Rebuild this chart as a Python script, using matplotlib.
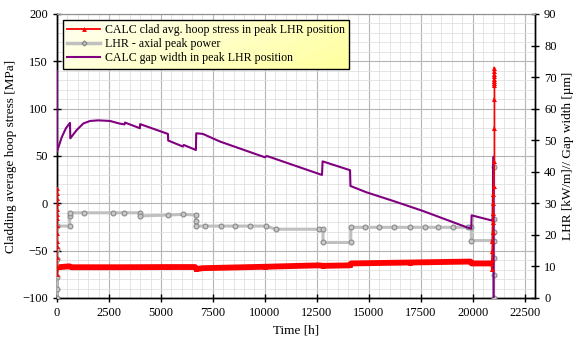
import numpy as np
import matplotlib
matplotlib.use("Agg")
import matplotlib.pyplot as plt
from matplotlib.lines import Line2D
from matplotlib.ticker import MultipleLocator

plt.rcParams['font.family'] = ['Liberation Serif', 'DejaVu Serif']

# ---- data ----
# red: clad average hoop stress [MPa] (left axis)
red_t = [0, 0, 0, 0, 0, 0, 0, 0, 0, 0, 0, 0, 0, 0,
         80, 600, 700, 3000, 5400, 6650, 6700, 7000, 10000, 12600, 12800,
         14100, 14150, 17000, 19900, 19950, 20900,
         20920, 20930, 20940, 20950, 20960, 20970, 20980, 20990, 21000, 21010,
         21050, 21050, 21050, 21050, 21050, 21050, 21050, 21050, 21050, 21050, 21050]
red_v = [16.5, 11, 6, 0.5, -5.5, -11, -16, -23, -31, -40, -45, -57, -67.7, -74.8,
         -67.5, -66.5, -67.5, -67.5, -67.3, -67.3, -69.5, -68.5, -67, -65.5, -66,
         -65.5, -63.5, -62.5, -61.5, -63.5, -63.5,
         -69, -60, -50, -40, -30, -20, -10, 0, 10, 18,
         45, 80, 110, 125, 127, 129, 131, 134, 137, 140, 143]
red_body_start, red_body_end = 14, 31   # index range of the dense (thick) part

# gray: LHR axial peak power [kW/m] (right axis)
lhr_t = [0, 0, 0, 0, 0, 0, 610, 610, 610, 1310, 2700, 3240, 3990, 3990, 5350, 6070,
         6670, 6670, 6670, 7115, 7870, 8560, 9280, 10050, 10530, 12610, 12800, 12800,
         14135, 14135, 14808, 15495, 16216, 16971, 17707, 18351, 19053, 19774, 19937,
         19937, 20960, 21010, 21010, 21010, 21010, 21010, 21010, 21010]
lhr_v = [0, 2.9, 6.7, 12.4, 15.5, 22.8, 22.8, 26.0, 27.0, 27.0, 27.0, 27.0, 27.0, 26.0, 26.3, 26.5,
         26.3, 24.3, 22.8, 22.8, 22.8, 22.8, 22.8, 22.8, 21.8, 21.8, 21.8, 17.6,
         17.6, 22.4, 22.4, 22.4, 22.4, 22.4, 22.4, 22.4, 22.4, 22.4, 22.4,
         18.2, 18.2, 41.6, 24.9, 21.0, 18.2, 12.6, 7.3, 0]

# purple: gap width [um] (right axis)
gap_t = [0, 0, 225, 430, 625, 640, 945, 1265, 1590, 1990, 2550, 3000, 3250, 3270,
         3990, 4000, 5337, 5350, 6058, 6100, 6683, 6700, 7019, 7836, 10000, 10100,
         12750, 12780, 14100, 14120, 14888, 16250, 17600, 19760, 19935, 19950, 20960,
         21010, 21010]
gap_v = [72, 46.4, 50.9, 53.8, 55.5, 50.6, 53.2, 55.3, 56.1, 56.3, 56.1, 55.3, 55.0, 55.6,
         53.8, 55.1, 52.0, 49.9, 48.0, 48.5, 46.9, 52.2, 52.0, 49.6, 44.6, 45.0,
         39.0, 43.3, 40.5, 35.5, 33.5, 30.6, 27.6, 22.3, 22.0, 26.2, 24.5,
         44.8, 0]

x_ticks = [0, 2500, 5000, 7500, 10000, 12500, 15000, 17500, 20000, 22500]
labels = ["CALC clad avg. hoop stress in peak LHR position",
          "LHR - axial peak power",
          "CALC gap width in peak LHR position"]

RED = '#ff0000'
GRAY = '#c0c0c0'
PURPLE = '#800080'

fig = plt.figure(figsize=(5.79, 3.51), dpi=100)
ax = fig.add_axes([57/579, 1-298/351, (535-57)/579, (298-14)/351])
ax2 = ax.twinx()

ax.set_xlim(0, 23000)
ax.set_ylim(-100, 200)
ax2.set_ylim(0, 90)

ax.set_xticks(x_ticks)
ax.xaxis.set_minor_locator(MultipleLocator(500))
ax.yaxis.set_major_locator(MultipleLocator(50))
ax.yaxis.set_minor_locator(MultipleLocator(10))
ax2.yaxis.set_major_locator(MultipleLocator(10))

ax.grid(which='major', color='#b4b4b4', lw=0.8)
ax.grid(which='minor', color='#e0e0e0', lw=0.6)
ax.set_axisbelow(True)

ax.tick_params(which='major', direction='inout', length=6, width=1, labelsize=9)
ax.tick_params(which='minor', length=0)
ax2.tick_params(which='major', direction='inout', length=6, width=1, labelsize=9)
ax2.tick_params(which='minor', length=0)
for a in (ax, ax2):
    a.spines['top'].set_color('#909090')
    for s in ('left', 'right', 'bottom'):
        a.spines[s].set_linewidth(1.0)

# series
ax2.plot(lhr_t, lhr_v, color=GRAY, lw=2.2, marker='o', ms=3.5,
         mfc='#c8c8c8', mec='#8a8a8a', mew=0.8, zorder=3)
ax2.plot(gap_t, gap_v, color=PURPLE, lw=1.5, zorder=4)
ax2.plot(red_t[red_body_start:red_body_end], red_v[red_body_start:red_body_end],
         color=RED, lw=4.2, solid_capstyle='butt', zorder=5,
         transform=ax.transData)
ax2.plot(red_t, red_v, color=RED, lw=1.2, marker='^', ms=3.6, mew=0,
         zorder=5, transform=ax.transData)

ax.set_xlabel('Time [h]', fontsize=9.5)
ax.set_ylabel('Cladding average hoop stress [MPa]', fontsize=9.5)
ax2.set_ylabel('LHR [kW/m]// Gap width [µm]', fontsize=9.5)

handles = [Line2D([], [], color=RED, lw=1.3, marker='^', ms=3.5, mew=0),
           Line2D([], [], color=GRAY, lw=2.5, marker='D', ms=2.5, mfc='#c8c8c8', mec='#8a8a8a'),
           Line2D([], [], color=PURPLE, lw=1.5)]
leg = ax2.legend(handles, labels, loc='upper left',
                 bbox_to_anchor=(0.0132, 0.979),
                 fontsize=8.6, frameon=True, fancybox=False, framealpha=1,
                 handlelength=2.7, borderpad=0.35, labelspacing=0.18,
                 handletextpad=0.4, borderaxespad=0)
leg.get_frame().set_edgecolor('black')
leg.get_frame().set_linewidth(1.0)
leg.get_frame().set_facecolor('none')
leg.set_zorder(20)

fig.canvas.draw()
bb = leg.get_window_extent().transformed(ax2.transAxes.inverted())
gx = np.linspace(0, 1, 200)
gy = np.linspace(0, 1, 40)
G = (gx[None, :] * 0.75 + gy[:, None] * 0.25)
c0 = np.array([1.0, 1.0, 0.95])
c1 = np.array([1.0, 1.0, 0.62])
img = c0[None, None, :] * (1 - G[..., None]) + c1[None, None, :] * G[..., None]
ax2.imshow(img, extent=(bb.x0, bb.x1, bb.y0, bb.y1), transform=ax2.transAxes,
           aspect='auto', zorder=15, origin='upper', interpolation='bilinear')
ax2.set_xlim(0, 23000)
ax2.set_ylim(0, 90)

fig.savefig('out.png', dpi=100)
